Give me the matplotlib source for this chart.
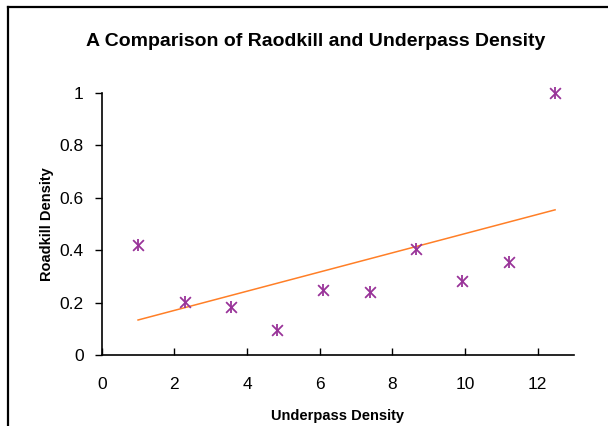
import numpy as np
import matplotlib
matplotlib.use("Agg")
import matplotlib.pyplot as plt
from matplotlib.lines import Line2D

plt.rcParams['font.family'] = ['Liberation Sans', 'DejaVu Sans']

underpass = [1.0, 2.28, 3.55, 4.83, 6.10, 7.38, 8.65, 9.93, 11.20, 12.48]
roadkill = [0.42, 0.203, 0.184, 0.095, 0.248, 0.242, 0.405, 0.282, 0.355, 1.0]
x_ticks = [0, 2, 4, 6, 8, 10, 12]
y_ticks = [0, 0.2, 0.4, 0.6, 0.8, 1]
y_ticklabels = ['0', '0.2', '0.4', '0.6', '0.8', '1']

fig = plt.figure(figsize=(6.08, 4.26), dpi=100)
ax = fig.add_axes([0.1673, 0.1667, 0.944 - 0.1673, 0.7824 - 0.1667])

xs = np.array(underpass)
ys = np.array(roadkill)
slope, intercept = np.polyfit(xs, ys, 1)
xl = np.array([xs.min(), xs.max()])
ax.plot(xl, slope * xl + intercept, color='#FF7F27', lw=1.1, zorder=2)

purple = '#993399'
ax.scatter(xs, ys, marker='x', s=60, color=purple, linewidths=1.3, zorder=3, clip_on=False)
ax.scatter(xs, ys, marker='|', s=75, color=purple, linewidths=1.3, zorder=3, clip_on=False)

ax.set_xlim(0, 13)
ax.set_ylim(0, 1)
ax.set_xticks(x_ticks)
ax.set_yticks(y_ticks)
ax.set_yticklabels(y_ticklabels)
ax.tick_params(axis='x', direction='in', length=5, width=1, labelsize=12.5, pad=16)
ax.tick_params(axis='y', direction='out', length=5, width=1, labelsize=12.5, pad=8)
for s in ['top', 'right']:
    ax.spines[s].set_visible(False)
for s in ['left', 'bottom']:
    ax.spines[s].set_linewidth(1.2)
    ax.spines[s].set_color('black')

ax.set_xlabel('Underpass Density', fontsize=10.5, fontweight='bold', labelpad=12)
ax.set_ylabel('Roadkill Density', fontsize=10.5, fontweight='bold', labelpad=4)
fig.text(0.52, 1 - 42 / 426, 'A Comparison of Raodkill and Underpass Density',
         ha='center', va='center', fontsize=14, fontweight='bold')

# chart frame (top and left edges visible)
fig.add_artist(Line2D([8 / 608, 8 / 608], [0, 1 - 6.5 / 426], transform=fig.transFigure,
                      color='black', lw=1.6))
fig.add_artist(Line2D([8 / 608, 1], [1 - 6.5 / 426, 1 - 6.5 / 426], transform=fig.transFigure,
                      color='black', lw=1.6))

fig.savefig('out.png', dpi=100)
